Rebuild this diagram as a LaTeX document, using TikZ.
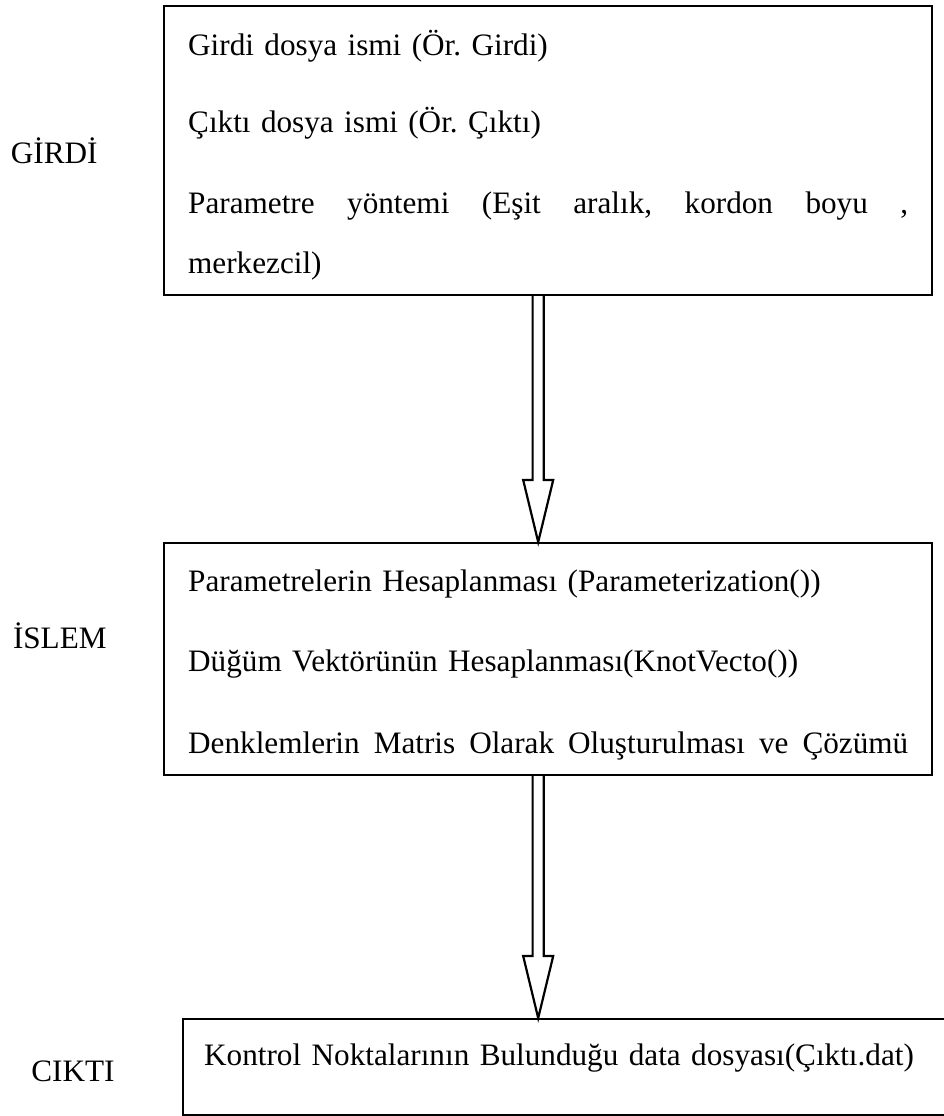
\documentclass[tikz,border=0pt]{standalone}
\usepackage{fontspec}
\setmainfont{Liberation Serif}
\frenchspacing
\usetikzlibrary{positioning,calc}
\tikzset{
  fc_box/.style={rectangle,
    draw=black,line width=1.2pt,
    text width=360pt,align=left,
    inner xsep=12pt,inner ysep=7.5pt,
    font=\fontsize{15.6}{30}\selectfont},
  fc_label/.style={inner sep=0pt,
    font=\fontsize{15.6}{19}\selectfont},
  blockarr/.style={draw=black,line width=1.1pt,line join=miter,
    to path={let \p1=(\tikztostart), \p2=(\tikztotarget) in
      (\x1-2.8pt,\y1) -- (\x1-2.8pt,\y2+31pt) -- (\x1-7.5pt,\y2+31pt)
      -- (\x2,\y2) -- (\x1+7.5pt,\y2+31pt) -- (\x1+2.8pt,\y2+31pt)
      -- (\x1+2.8pt,\y1)}},
}
\begin{document}
\begin{tikzpicture}[x=0.5pt,y=-0.5pt]
  \useasboundingbox (0,0) rectangle (944,1116);

  \node (girdibox) [fc_box,anchor=north west] at (163,5)
    {\rule{0pt}{17pt}Girdi dosya ismi (Ör. Girdi)\\[8.5pt]
     Çıktı dosya ismi (Ör. Çıktı)\\[10.5pt]
     \noindent\hbox to 360pt{Parametre\hfill yöntemi\hfill (Eşit\hfill aralık,\hfill
       kordon\hfill boyu\hfill ,}\\
     merkezcil)};

  \node (islembox) [fc_box,below=123pt of girdibox]
    {\rule{0pt}{16.5pt}Parametrelerin Hesaplanması (Parameterization())\\[10pt]
     Düğüm Vektörünün Hesaplanması(KnotVecto())\\[11pt]
     \noindent\hbox to 360pt{Denklemlerin\hfil Matris\hfil Olarak\hfil
       Oluşturulması\hfil ve\hfil Çözümü}};

  \node (ciktibox) [fc_box,text width=373pt,inner xsep=10.5pt,
                    below=121pt of islembox.south west,anchor=north west,
                    xshift=9.5pt]
    {\rule[-17.5pt]{0pt}{33pt}Kontrol Noktalarının Bulunduğu data dosyası(Çıktı.dat)};

  \node (girdi) [fc_label,left=32.5pt of girdibox] {GİRDİ};
  \node (islem) [fc_label,left=28pt of islembox,yshift=11.5pt] {İSLEM};
  \node (cikti) [fc_label,left=33.5pt of ciktibox,yshift=-2pt] {CIKTI};

  \draw[blockarr] ([xshift=-5pt]girdibox.south) to ([xshift=-5pt]islembox.north);
  \draw[blockarr] ([xshift=-5pt]islembox.south) to ([xshift=-5pt]ciktibox.north -| islembox.south);

\end{tikzpicture}
\end{document}
